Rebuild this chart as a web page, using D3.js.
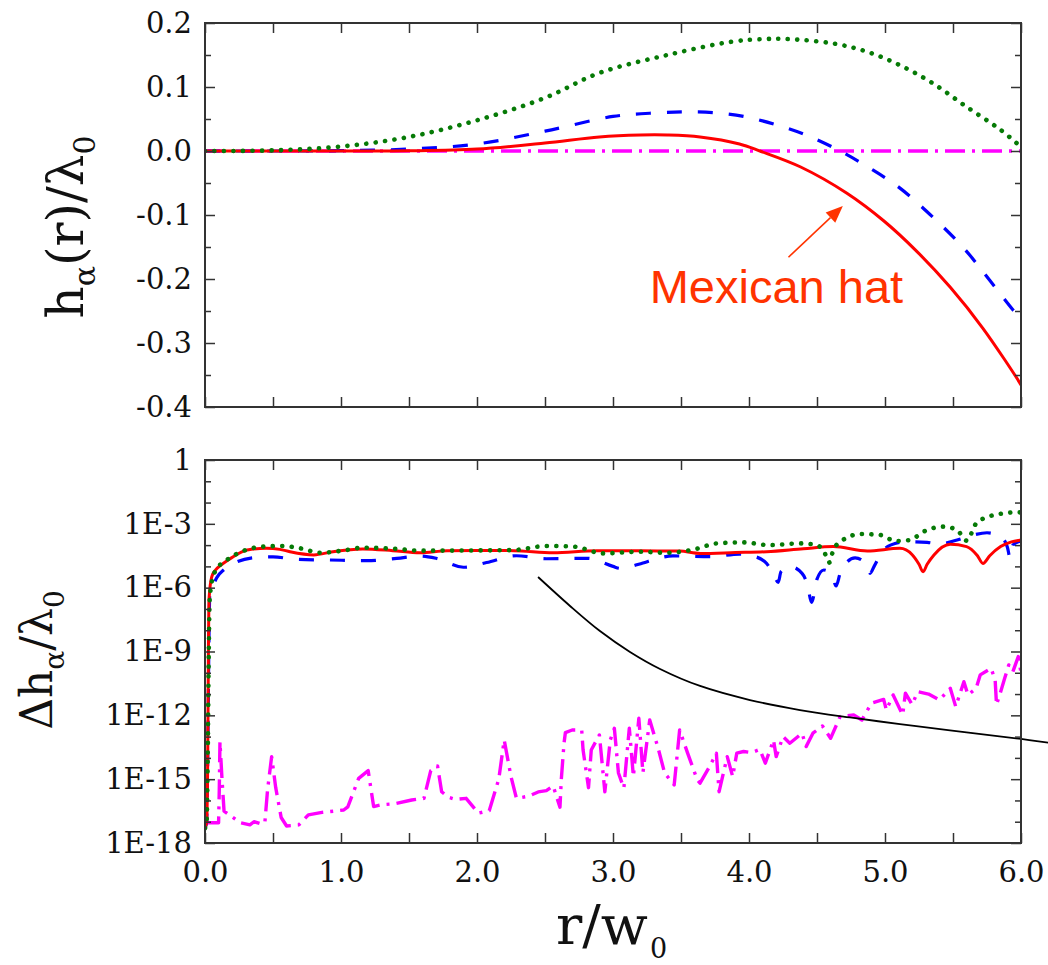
<!DOCTYPE html>
<html>
<head>
<meta charset="utf-8">
<script src="https://cdn.jsdelivr.net/npm/d3@7"></script>
<style>
  body { margin: 0; background: #fff; }
</style>
</head>
<body>
<div id="chart"></div>
<script>
// ---- data (r/w0, value) ----
// top panel: h_alpha(r)/lambda_0
const topGreen = [[0,0],[0.5,0.001],[1.0,0.007],[1.5,0.022],[2.0,0.048],[2.5,0.083],[2.9,0.122],[3.4,0.150],[3.88,0.171],[4.13,0.175],[4.28,0.175],[4.62,0.168],[4.87,0.155],[5.11,0.134],[5.35,0.106],[5.6,0.069],[5.85,0.033],[5.98,0.010]];
const topBlue = [[0,0],[0.5,0],[1.0,0.0005],[1.5,0.003],[2.0,0.011],[2.5,0.031],[3.0,0.054],[3.27,0.059],[3.51,0.061],[3.74,0.060],[3.96,0.054],[4.2,0.041],[4.42,0.025],[4.67,0.0],[4.89,-0.027],[5.11,-0.058],[5.35,-0.103],[5.58,-0.152],[5.77,-0.202],[5.94,-0.248],[6.0,-0.262]];
const topRed = [[0,0],[1.0,0],[1.5,0.0003],[2.0,0.003],[2.5,0.0125],[2.9,0.022],[3.2,0.025],[3.4,0.025],[3.64,0.022],[3.93,0.011],[4.08,0],[4.38,-0.025],[4.72,-0.066],[4.99,-0.109],[5.23,-0.156],[5.48,-0.213],[5.72,-0.277],[5.99,-0.362],[6.0,-0.366]];
const topMagenta = [[0,0],[6,0]];

// bottom panel: log10 of delta h_alpha / lambda_0
const botRed = [[0,-17.3],[0.012,-17.0],[0.02,-14],[0.025,-9],[0.03,-6.5],[0.05,-5.48],[0.08,-5.15],[0.12,-4.93],[0.17,-4.7],[0.24,-4.42],[0.31,-4.23],[0.45,-4.15],[0.55,-4.2],[0.625,-4.31],[0.8,-4.46],[0.94,-4.31],[1.16,-4.18],[1.38,-4.26],[1.58,-4.36],[1.78,-4.26],[2.0,-4.25],[2.27,-4.26],[2.56,-4.36],[2.88,-4.26],[3.2,-4.27],[3.49,-4.28],[3.64,-4.39],[3.9,-4.35],[4.13,-4.31],[4.4,-4.17],[4.62,-4.07],[4.87,-4.28],[5.11,-4.15],[5.2,-4.45],[5.25,-4.9],[5.28,-5.25],[5.31,-4.9],[5.36,-4.46],[5.48,-3.96],[5.6,-4.07],[5.68,-4.5],[5.72,-4.86],[5.77,-4.5],[5.85,-4.07],[5.93,-3.85],[6.0,-3.76]];
const botGreen = [[0,-17.3],[0.012,-17],[0.02,-14],[0.028,-9],[0.035,-6.5],[0.06,-5.48],[0.1,-5.01],[0.16,-4.7],[0.3,-4.23],[0.43,-4.07],[0.57,-4.04],[0.7,-4.15],[0.85,-4.36],[1.04,-4.23],[1.16,-4.12],[1.41,-4.18],[1.58,-4.26],[2.0,-4.25],[2.27,-4.23],[2.51,-4.04],[2.71,-4.07],[2.93,-4.39],[3.2,-4.31],[3.39,-4.36],[3.61,-4.18],[3.76,-3.92],[3.96,-3.87],[4.15,-4.0],[4.38,-3.92],[4.5,-4.0],[4.56,-4.42],[4.59,-4.82],[4.62,-4.23],[4.69,-3.76],[4.82,-3.48],[4.96,-3.52],[5.08,-3.81],[5.18,-3.76],[5.3,-3.32],[5.43,-3.13],[5.53,-3.29],[5.6,-3.79],[5.67,-2.98],[5.75,-2.69],[5.87,-2.51],[5.96,-2.46],[6.0,-2.46]];
const botBlue = [[0,-17.3],[0.012,-17],[0.02,-14],[0.028,-9],[0.035,-6.3],[0.06,-5.9],[0.085,-5.54],[0.14,-5.15],[0.21,-4.86],[0.38,-4.58],[0.5,-4.55],[0.67,-4.67],[0.92,-4.70],[1.19,-4.73],[1.41,-4.62],[1.58,-4.51],[1.70,-4.62],[1.90,-5.04],[2.07,-4.82],[2.29,-4.50],[2.51,-4.64],[2.81,-4.62],[3.0,-5.0],[3.05,-5.09],[3.22,-4.84],[3.30,-4.68],[3.44,-4.51],[3.72,-4.54],[3.93,-4.42],[4.05,-4.55],[4.13,-4.86],[4.18,-5.36],[4.215,-5.75],[4.235,-5.25],[4.3,-5.0],[4.39,-5.33],[4.43,-5.87],[4.46,-6.69],[4.5,-5.6],[4.55,-5.17],[4.61,-5.40],[4.64,-5.92],[4.67,-5.33],[4.72,-4.8],[4.78,-4.6],[4.86,-4.86],[4.89,-5.33],[4.92,-5.0],[4.98,-4.3],[5.04,-4.0],[5.16,-3.84],[5.31,-3.87],[5.40,-3.95],[5.53,-3.76],[5.65,-3.52],[5.75,-3.42],[5.85,-3.60],[5.90,-4.1],[5.92,-4.6],[5.94,-4.0],[6.0,-3.8]];
const botMagenta = [[0.0,-17.05],[0.10,-17.05],[0.105,-15.5],[0.11,-13.24],[0.125,-15.0],[0.14,-16.5],[0.26,-17.05],[0.33,-17.15],[0.36,-17.0],[0.41,-17.1],[0.44,-17.05],[0.46,-15.5],[0.49,-13.94],[0.52,-15.4],[0.56,-16.8],[0.60,-17.2],[0.69,-17.15],[0.76,-16.68],[0.86,-16.56],[0.95,-16.5],[1.02,-16.45],[1.05,-16.3],[1.13,-14.96],[1.20,-14.6],[1.24,-16.29],[1.30,-16.2],[1.40,-16.15],[1.52,-15.98],[1.61,-15.9],[1.66,-14.6],[1.71,-14.38],[1.74,-15.59],[1.79,-15.85],[1.84,-15.95],[1.92,-15.9],[2.01,-16.6],[2.09,-16.48],[2.16,-15.0],[2.20,-13.16],[2.25,-14.88],[2.29,-15.9],[2.38,-15.8],[2.45,-15.6],[2.51,-15.54],[2.56,-15.32],[2.61,-16.32],[2.62,-15.0],[2.64,-13.3],[2.65,-12.81],[2.7,-12.69],[2.77,-12.69],[2.78,-13.63],[2.82,-15.4],[2.84,-13.63],[2.90,-12.92],[2.94,-15.59],[2.98,-13.16],[3.01,-12.61],[3.04,-14.71],[3.08,-15.42],[3.12,-12.6],[3.15,-14.88],[3.19,-12.14],[3.22,-14.7],[3.27,-12.22],[3.33,-13.5],[3.38,-14.72],[3.45,-15.27],[3.49,-12.69],[3.55,-13.8],[3.62,-15.04],[3.64,-15.19],[3.71,-14.41],[3.76,-13.78],[3.78,-15.59],[3.84,-13.94],[3.88,-14.88],[3.91,-13.78],[3.96,-13.7],[4.02,-13.75],[4.08,-13.6],[4.12,-14.25],[4.18,-13.16],[4.20,-13.94],[4.25,-13.0],[4.30,-13.31],[4.39,-12.84],[4.42,-13.47],[4.47,-12.84],[4.54,-12.5],[4.60,-13.08],[4.67,-12.06],[4.77,-11.98],[4.83,-12.22],[4.90,-11.43],[4.99,-11.25],[5.01,-11.75],[5.06,-11.04],[5.13,-11.98],[5.15,-10.96],[5.20,-11.5],[5.24,-10.89],[5.32,-11.0],[5.40,-11.28],[5.48,-10.73],[5.52,-11.59],[5.58,-10.42],[5.61,-11.04],[5.67,-10.73],[5.70,-10.1],[5.78,-9.79],[5.81,-10.34],[5.82,-11.51],[5.85,-10.9],[5.88,-10.26],[5.91,-9.63],[5.94,-9.95],[5.98,-9.24],[6.0,-10.0]];
const botBlack = [[2.449,-5.50],[2.684,-6.86],[2.904,-8.04],[3.125,-9.02],[3.346,-9.82],[3.64,-10.62],[4.007,-11.28],[4.375,-11.75],[4.743,-12.10],[5.11,-12.41],[5.478,-12.71],[6.0,-13.11],[6.199,-13.28]];

// ticks and labels
const xTickVals = [0, 1, 2, 3, 4, 5, 6];
const xTickLabels = ["0.0", "1.0", "2.0", "3.0", "4.0", "5.0", "6.0"];
const xMinorVals = [0.5, 1.5, 2.5, 3.5, 4.5, 5.5];
const topTickVals = [-0.4, -0.3, -0.2, -0.1, 0.0, 0.1, 0.2];
const topTickLabels = ["-0.4", "-0.3", "-0.2", "-0.1", "0.0", "0.1", "0.2"];
const topMinorVals = [-0.35, -0.25, -0.15, -0.05, 0.05, 0.15];
const botTickExp = [0, -3, -6, -9, -12, -15, -18];
const botTickLabels = ["1", "1E-3", "1E-6", "1E-9", "1E-12", "1E-15", "1E-18"];
const botMinorExp = [-1, -2, -4, -5, -7, -8, -10, -11, -13, -14, -16, -17];

// annotation: label anchor and arrow (tail, tip) in data coords of top panel
const hatLabel = { text: "Mexican hat", r: 3.27, v: -0.2375 };
const hatArrow = { r0: 4.29, v0: -0.166, r1: 4.69, v1: -0.086 };

const width = 1048, height = 965;
const left = 205, right = 1021;
const topPanel = { y0: 23, y1: 407 };
const botPanel = { y0: 460, y1: 843 };

const colorRed = "#ff0000";
const colorBlue = "#0000ff";
const colorGreen = "#067a06";
const colorMagenta = "#ff00ff";
const colorFrame = "#333333";
const colorNote = "#ff3300";
const serif = "'DejaVu Serif', serif";

const svg = d3.select("#chart").append("svg")
    .attr("width", width)
    .attr("height", height);

const x = d3.scaleLinear().domain([0, 6]).range([left, right]);
const yTop = d3.scaleLinear().domain([-0.4, 0.2]).range([topPanel.y1, topPanel.y0]);
const yBot = d3.scaleLog().domain([1e-18, 1]).range([botPanel.y1, botPanel.y0]);

// clip paths for the two panels
const defs = svg.append("defs");
[["clipTop", topPanel], ["clipBot", botPanel]].forEach(([id, p]) => {
    defs.append("clipPath").attr("id", id)
        .append("rect")
        .attr("x", left).attr("y", p.y0)
        .attr("width", right - left).attr("height", p.y1 - p.y0);
});

function styleTicks(g) {
    g.select(".domain").remove();
    g.selectAll(".tick line").attr("stroke", colorFrame).attr("stroke-width", 1.5);
    g.selectAll(".tick text")
        .style("font-family", serif)
        .style("font-size", "29px")
        .attr("fill", "#111");
}

// axes for a panel: y ticks left/right, x ticks top/bottom (all inward)
function drawAxes(p, yScale, majors, labels, minors, withXLabels) {
    svg.append("g").attr("transform", `translate(${left},0)`)
        .call(d3.axisLeft(yScale).tickValues(majors).tickSize(-10).tickPadding(13)
            .tickFormat((d, i) => labels[i]))
        .call(styleTicks);
    svg.append("g").attr("transform", `translate(${left},0)`)
        .call(d3.axisLeft(yScale).tickValues(minors).tickSize(-6).tickFormat(""))
        .call(styleTicks);
    svg.append("g").attr("transform", `translate(${right},0)`)
        .call(d3.axisRight(yScale).tickValues(majors).tickSize(-10).tickFormat(""))
        .call(styleTicks);
    svg.append("g").attr("transform", `translate(${right},0)`)
        .call(d3.axisRight(yScale).tickValues(minors).tickSize(-6).tickFormat(""))
        .call(styleTicks);

    const allX = xTickVals.concat(xMinorVals);
    svg.append("g").attr("transform", `translate(0,${p.y0})`)
        .call(d3.axisTop(x).tickValues(allX).tickSize(-10).tickFormat(""))
        .call(styleTicks);
    svg.append("g").attr("transform", `translate(0,${p.y1})`)
        .call(d3.axisBottom(x).tickValues(xMinorVals).tickSize(-10).tickFormat(""))
        .call(styleTicks);
    svg.append("g").attr("transform", `translate(0,${p.y1})`)
        .call(d3.axisBottom(x).tickValues(xTickVals).tickSize(-10).tickPadding(18)
            .tickFormat((d, i) => withXLabels ? xTickLabels[i] : ""))
        .call(styleTicks);

    svg.append("rect")
        .attr("x", left).attr("y", p.y0)
        .attr("width", right - left).attr("height", p.y1 - p.y0)
        .attr("fill", "none")
        .attr("stroke", colorFrame)
        .attr("stroke-width", 2);
}

const lineTop = d3.line().x(d => x(d[0])).y(d => yTop(d[1])).curve(d3.curveCatmullRom.alpha(0.5));
const lineBot = d3.line().x(d => x(d[0])).y(d => yBot(Math.pow(10, d[1]))).curve(d3.curveMonotoneX);
const lineBotRaw = d3.line().x(d => x(d[0])).y(d => yBot(Math.pow(10, d[1])));

const styles = {
    red: { stroke: colorRed, w: 3, dash: null, cap: "butt" },
    blue: { stroke: colorBlue, w: 3.2, dash: "15,16", cap: "butt" },
    green: { stroke: colorGreen, w: 4.6, dash: "0.1,9.4", cap: "round" },
    magenta: { stroke: colorMagenta, w: 3.4, dash: "20,7,3,7", cap: "butt" },
    black: { stroke: "#000", w: 1.8, dash: null, cap: "butt" }
};

function drawLine(g, data, gen, s) {
    g.append("path")
        .datum(data)
        .attr("d", gen)
        .attr("fill", "none")
        .attr("stroke", s.stroke)
        .attr("stroke-width", s.w)
        .attr("stroke-dasharray", s.dash)
        .attr("stroke-linecap", s.cap)
        .attr("stroke-linejoin", "round");
}

// top panel curves
const gTop = svg.append("g").attr("clip-path", "url(#clipTop)");
drawLine(gTop, topMagenta, lineTop, styles.magenta);
drawLine(gTop, topBlue, lineTop, styles.blue);
drawLine(gTop, topRed, lineTop, styles.red);
drawLine(gTop, topGreen, lineTop, styles.green);

// bottom panel curves
const gBot = svg.append("g").attr("clip-path", "url(#clipBot)");
drawLine(gBot, botMagenta, lineBotRaw, styles.magenta);
drawLine(gBot, botBlue, lineBot, styles.blue);
drawLine(gBot, botRed, lineBot, styles.red);
drawLine(gBot, botGreen, lineBot, styles.green);
// the black reference curve runs past the right frame
drawLine(svg, botBlack, lineBot.curve(d3.curveCatmullRom.alpha(0.5)), styles.black);

drawAxes(topPanel, yTop, topTickVals, topTickLabels, topMinorVals, false);
drawAxes(botPanel, yBot, botTickExp.map(e => Math.pow(10, e)), botTickLabels,
    botMinorExp.map(e => Math.pow(10, e)), true);

// annotation
const ax0 = x(hatArrow.r0), ay0 = yTop(hatArrow.v0);
const ax1 = x(hatArrow.r1), ay1 = yTop(hatArrow.v1);
const ang = Math.atan2(ay1 - ay0, ax1 - ax0);
const headLen = 17, headW = 7;
const bx = ax1 - headLen * Math.cos(ang), by = ay1 - headLen * Math.sin(ang);
svg.append("line")
    .attr("x1", ax0).attr("y1", ay0).attr("x2", bx).attr("y2", by)
    .attr("stroke", colorNote).attr("stroke-width", 1.6);
svg.append("path")
    .attr("d", `M${ax1},${ay1} L${bx + headW * Math.sin(ang)},${by - headW * Math.cos(ang)} L${bx - headW * Math.sin(ang)},${by + headW * Math.cos(ang)} Z`)
    .attr("fill", colorNote);
svg.append("text")
    .attr("x", x(hatLabel.r)).attr("y", yTop(hatLabel.v))
    .style("font-family", "'Liberation Sans', Arial, sans-serif")
    .style("font-size", "47px")
    .attr("fill", colorNote)
    .text(hatLabel.text);

// axis titles
const t1 = svg.append("text")
    .attr("transform", "translate(83,227) rotate(-90)")
    .attr("text-anchor", "middle")
    .style("font-family", serif).style("font-size", "50px").attr("fill", "#111");
t1.append("tspan").text("h");
t1.append("tspan").attr("dy", 12).style("font-size", "30px").text("α");
t1.append("tspan").attr("dy", -12).text("(r)/λ");
t1.append("tspan").attr("dy", 12).style("font-size", "30px").text("0");

const t2 = svg.append("text")
    .attr("transform", "translate(52,660) rotate(-90)")
    .attr("text-anchor", "middle")
    .style("font-family", serif).style("font-size", "44px").attr("fill", "#111");
t2.append("tspan").text("Δh");
t2.append("tspan").attr("dy", 12).style("font-size", "28px").text("α");
t2.append("tspan").attr("dy", -12).text("/λ");
t2.append("tspan").attr("dy", 12).style("font-size", "28px").text("0");

const t3 = svg.append("text")
    .attr("x", 556).attr("y", 944)
    .style("font-family", serif).style("font-size", "55px").attr("fill", "#111");
t3.append("tspan").text("r/w");
t3.append("tspan").attr("dy", 14).attr("dx", 2).style("font-size", "27px").text("0");
</script>
</body>
</html>
